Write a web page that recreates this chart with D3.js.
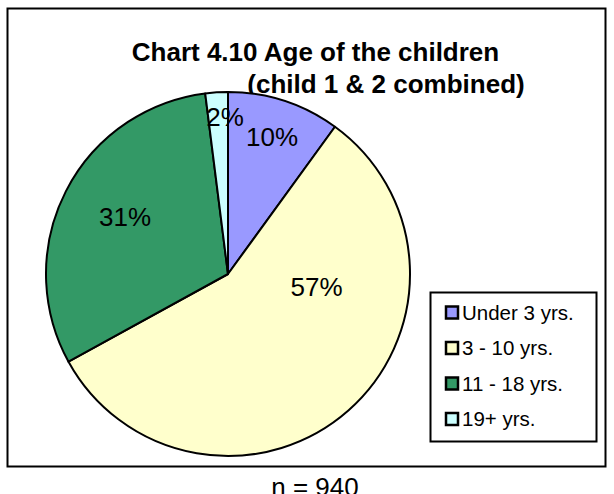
<!DOCTYPE html>
<html><head><meta charset="utf-8">
<script src="https://cdn.jsdelivr.net/npm/d3@7"></script>
<style>body{margin:0;background:#fff}svg{display:block}text{font-family:"Liberation Sans",Arial,sans-serif}</style>
</head><body>
<script>
const categories = ["Under 3 yrs.", "3 - 10 yrs.", "11 - 18 yrs.", "19+ yrs."];
const values = [10, 57, 31, 2];
const valueLabels = ["10%", "57%", "31%", "2%"];
const colors = ["#9999FF", "#FFFFCC", "#339966", "#CCFFFF"];

const W = 614, H = 494;
const svg = d3.select("body").append("svg").attr("width", W).attr("height", H);

svg.append("rect").attr("x", 7.5).attr("y", 8.5).attr("width", 598).attr("height", 458)
  .attr("fill", "#fff").attr("stroke", "#000").attr("stroke-width", 2);

svg.append("text").attr("x", 315.5).attr("y", 61).attr("text-anchor", "middle")
  .attr("font-weight", "bold").attr("font-size", 26).text("Chart 4.10 Age of the children");
svg.append("text").attr("x", 386).attr("y", 93).attr("text-anchor", "middle")
  .attr("font-weight", "bold").attr("font-size", 26).text("(child 1 & 2 combined)");

const cx = 228, cy = 274, R = 182;
const pie = d3.pie().sort(null).value(d => d)(values);
const arc = d3.arc().innerRadius(0).outerRadius(R);
const g = svg.append("g").attr("transform", `translate(${cx},${cy})`);
g.selectAll("path").data(pie).join("path")
  .attr("d", arc).attr("fill", (d, i) => colors[i])
  .attr("stroke", "#000").attr("stroke-width", 2).attr("stroke-linejoin", "round");

// label placement (layout): [fraction of radius, angular shift in degrees from slice mid-angle]
const labelLayout = [[0.796, -0.3], [0.492, -40.3], [0.649, 2.4], [0.863, 2.5]];
const lblAngle = (d, i) => (d.startAngle + d.endAngle) / 2 + labelLayout[i][1] * Math.PI / 180;
g.selectAll("text.lbl").data(pie).join("text").attr("class", "lbl")
  .attr("text-anchor", "middle")
  .attr("font-size", 26)
  .attr("x", (d, i) => Math.sin(lblAngle(d, i)) * R * labelLayout[i][0])
  .attr("y", (d, i) => -Math.cos(lblAngle(d, i)) * R * labelLayout[i][0] + 9.5)
  .text((d, i) => valueLabels[i]);

// legend
const lg = svg.append("g");
lg.append("rect").attr("x", 430.5).attr("y", 292.5).attr("width", 166).attr("height", 149)
  .attr("fill", "#fff").attr("stroke", "#000").attr("stroke-width", 2);
const ly = d3.scalePoint().domain(categories).range([312.5, 419]);
categories.forEach((c, i) => {
  lg.append("rect").attr("x", 446).attr("y", ly(c) - 6).attr("width", 12).attr("height", 12)
    .attr("fill", colors[i]).attr("stroke", "#000").attr("stroke-width", 2.5);
  lg.append("text").attr("x", 462).attr("y", ly(c) + 7.2)
    .attr("font-size", 20.5).text(c);
});

svg.append("text").attr("x", 315).attr("y", 496).attr("text-anchor", "middle")
  .attr("font-size", 26).text("n = 940");
</script>
</body></html>
